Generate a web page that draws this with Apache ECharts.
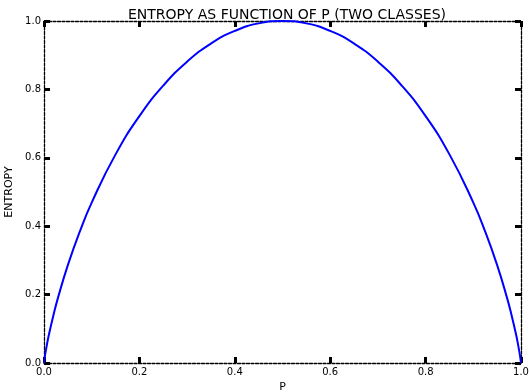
<!DOCTYPE html>
<html>
<head>
<meta charset="utf-8">
<script src="https://cdn.jsdelivr.net/npm/echarts@6/dist/echarts.min.js"></script>
<style>
  html, body { margin: 0; padding: 0; background: #fff; }
  #chart { width: 529px; height: 392px; }
</style>
</head>
<body>
<div id="chart"></div>
<script>
// p values and the entropy
var pValues = [0, 0.002, 0.005, 0.01, 0.02, 0.03, 0.05, 0.075, 0.1, 0.15, 0.2, 0.25, 0.3, 0.35, 0.4, 0.45, 0.5,
               0.55, 0.6, 0.65, 0.7, 0.75, 0.8, 0.85, 0.9, 0.925, 0.95, 0.97, 0.98, 0.99, 0.995, 0.998, 1];
var entropy = [0, 0.021, 0.045, 0.081, 0.141, 0.194, 0.286, 0.384, 0.469, 0.610, 0.722, 0.811, 0.881, 0.934, 0.971, 0.993, 1.0,
               0.993, 0.971, 0.934, 0.881, 0.811, 0.722, 0.610, 0.469, 0.384, 0.286, 0.194, 0.141, 0.081, 0.045, 0.021, 0];
var tickLabels = ['0.0', '0.2', '0.4', '0.6', '0.8', '1.0'];

var font = 'DejaVu Sans';
var axisLine = { show: true, onZero: false, lineStyle: { color: '#000', width: 1.3, type: [3, 1.5] } };
var axisTick = { show: true, inside: true, length: 6, lineStyle: { color: '#000', width: 3 } };

function lbl(v) { return tickLabels[Math.round(v * 5)]; }

var chart = echarts.init(document.getElementById('chart'));
chart.setOption({
  animation: false,
  title: {
    text: 'ENTROPY AS FUNCTION OF P (TWO CLASSES)',
    left: 282, top: 3, textAlign: 'center',
    textStyle: { fontFamily: font, fontSize: 14, fontWeight: 'normal', color: '#000' }
  },
  grid: { left: 44, right: 8, top: 21, bottom: 29, containLabel: false, outerBoundsMode: 'none' },
  xAxis: [{
    type: 'value', min: 0, max: 1, interval: 0.2,
    axisLine: axisLine, axisTick: axisTick, splitLine: { show: false },
    axisLabel: { formatter: lbl, fontFamily: font, fontSize: 10, color: '#000', margin: 4 },
    name: 'P', nameLocation: 'middle', nameGap: 17,
    nameTextStyle: { fontFamily: font, fontSize: 11, color: '#000' }
  }, {
    type: 'value', min: 0, max: 1, interval: 0.2, position: 'top',
    axisLine: axisLine, axisTick: axisTick, splitLine: { show: false },
    axisLabel: { show: false }
  }],
  yAxis: [{
    type: 'value', min: 0, max: 1, interval: 0.2,
    axisLine: axisLine, axisTick: axisTick, splitLine: { show: false },
    axisLabel: { formatter: lbl, fontFamily: font, fontSize: 10, color: '#000', margin: 3 },
    name: 'ENTROPY', nameLocation: 'middle', nameGap: 24,
    nameTextStyle: { fontFamily: font, fontSize: 11, color: '#000' }
  }, {
    type: 'value', min: 0, max: 1, interval: 0.2, position: 'right',
    axisLine: axisLine, axisTick: axisTick, splitLine: { show: false },
    axisLabel: { show: false }
  }],
  series: [{
    type: 'line',
    data: pValues.map(function (p, i) { return [p, entropy[i]]; }),
    smooth: true,
    showSymbol: false,
    lineStyle: { color: '#0000ff', width: 2 },
    clip: false
  }]
});
</script>
</body>
</html>
